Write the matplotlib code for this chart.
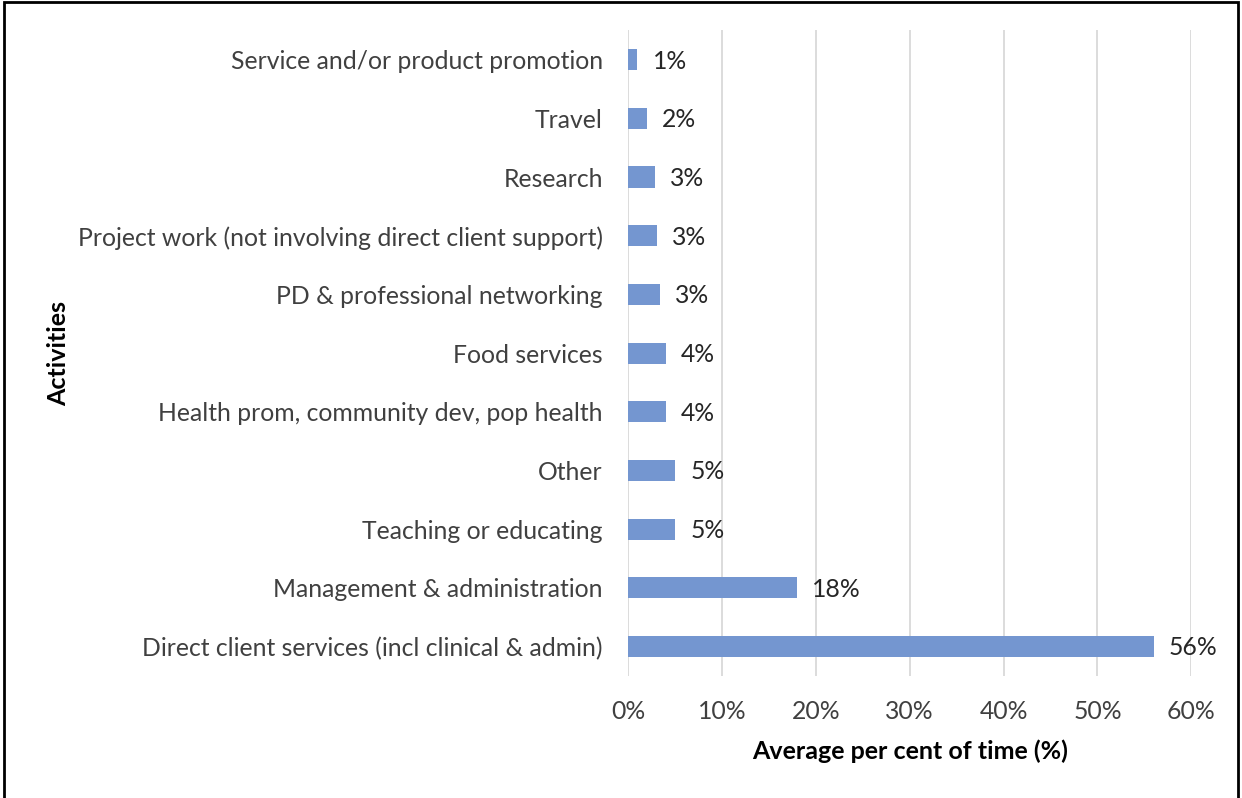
import matplotlib.pyplot as plt
from matplotlib.patches import Rectangle

# Activities listed top to bottom, with average share of time (%)
activities = [
    "Service and/or product promotion",
    "Travel",
    "Research",
    "Project work (not involving direct client support)",
    "PD & professional networking",
    "Food services",
    "Health prom, community dev, pop health",
    "Other",
    "Teaching or educating",
    "Management & administration",
    "Direct client services (incl clinical & admin)",
]
time_share = [1.0, 2.0, 2.9, 3.1, 3.4, 4.0, 4.0, 5.0, 5.0, 18.0, 56.0]
x_ticks = [0, 10, 20, 30, 40, 50, 60]

bar_color = '#7496d0'
text_color = '#404040'
grid_color = '#d9d9d9'
font = 'Lato'
fs = 17.8

fig = plt.figure(figsize=(12.42, 7.98), dpi=100, facecolor='white')
ax = fig.add_axes([0.5056, 0.153, 0.4536, 0.809])

y_pos = list(range(len(activities)))
ax.barh(y_pos, time_share, height=0.36, color=bar_color, zorder=3)

for y, v in zip(y_pos, time_share):
    ax.annotate(f"{v:.0f}%", xy=(v, y), xytext=(11, -1), textcoords='offset points',
                va='center', ha='left', fontsize=fs, color='#262626', family=font)

ax.set_xlim(0, 60)
ax.set_ylim(len(activities) - 0.5, -0.5)
ax.set_yticks(y_pos)
ax.set_yticklabels(activities, fontsize=fs, color=text_color, family=font)
ax.set_xticks(x_ticks)
ax.set_xticklabels([f"{t}%" for t in x_ticks], fontsize=fs, color=text_color, family=font)
ax.tick_params(axis='y', length=0, pad=18)
ax.tick_params(axis='x', length=0, pad=17)

ax.grid(axis='x', color=grid_color, linewidth=1.3, zorder=0)
for spine in ax.spines.values():
    spine.set_visible(False)

ax.set_xlabel("Average per cent of time (%)", fontsize=18, fontweight='bold',
              color='black', family=font, labelpad=12)
ax.set_ylabel("Activities", fontsize=18, fontweight='bold', color='black',
              family=font, labelpad=0)
ax.yaxis.set_label_coords(-0.99, 0.5)

# frame around the chart area
fig.patches.append(Rectangle((0.003, -0.01), 0.994, 1.007, transform=fig.transFigure,
                             fill=False, edgecolor='black', linewidth=2))

fig.savefig('out.png', dpi=100, facecolor='white')
